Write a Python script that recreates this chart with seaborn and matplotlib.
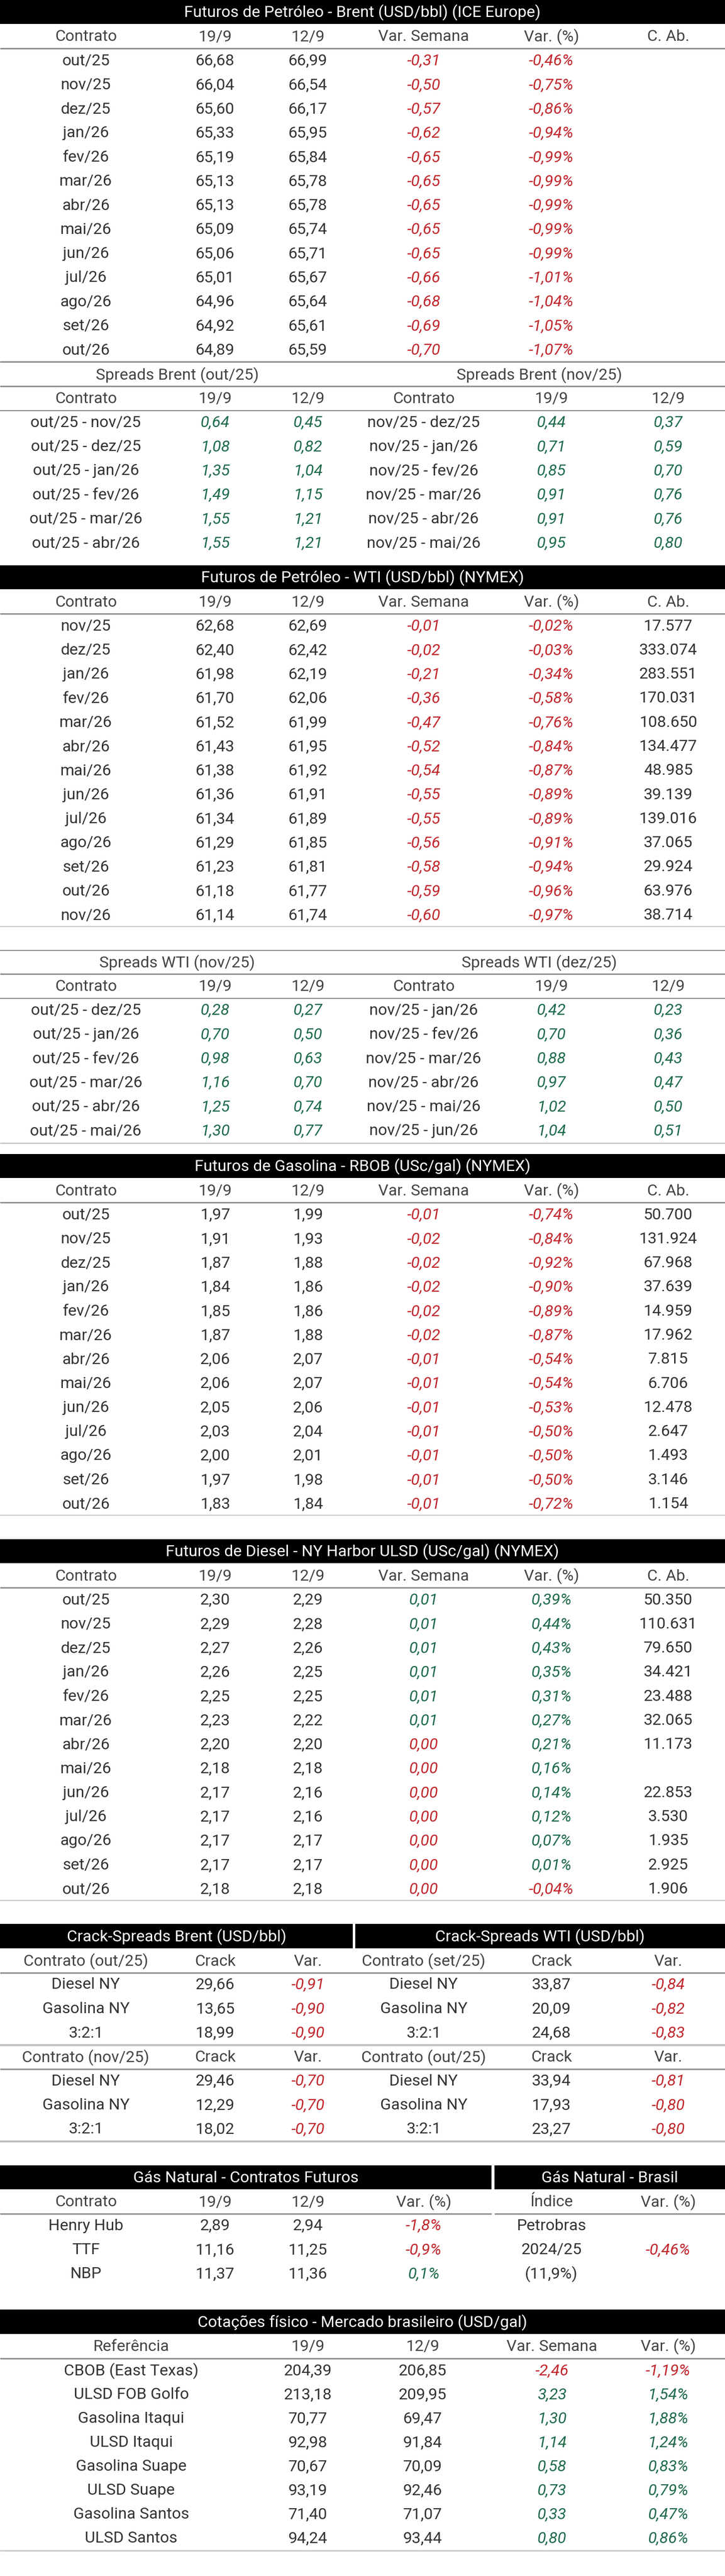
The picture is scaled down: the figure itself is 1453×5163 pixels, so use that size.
import numpy as np
import matplotlib
matplotlib.use("Agg")
import matplotlib.pyplot as plt
import seaborn as sns

# ---------------- data ----------------
meses_brent = ["out/25", "nov/25", "dez/25", "jan/26", "fev/26", "mar/26", "abr/26",
               "mai/26", "jun/26", "jul/26", "ago/26", "set/26", "out/26"]
brent_19 = ["66,68", "66,04", "65,60", "65,33", "65,19", "65,13", "65,13", "65,09", "65,06", "65,01", "64,96", "64,92", "64,89"]
brent_12 = ["66,99", "66,54", "66,17", "65,95", "65,84", "65,78", "65,78", "65,74", "65,71", "65,67", "65,64", "65,61", "65,59"]
brent_var = ["-0,31", "-0,50", "-0,57", "-0,62", "-0,65", "-0,65", "-0,65", "-0,65", "-0,65", "-0,66", "-0,68", "-0,69", "-0,70"]
brent_pct = ["-0,46%", "-0,75%", "-0,86%", "-0,94%", "-0,99%", "-0,99%", "-0,99%", "-0,99%", "-0,99%", "-1,01%", "-1,04%", "-1,05%", "-1,07%"]
brent_cab = [""] * 13

spb_a = ["out/25 - nov/25", "out/25 - dez/25", "out/25 - jan/26", "out/25 - fev/26", "out/25 - mar/26", "out/25 - abr/26"]
spb_a19 = ["0,64", "1,08", "1,35", "1,49", "1,55", "1,55"]
spb_a12 = ["0,45", "0,82", "1,04", "1,15", "1,21", "1,21"]
spb_b = ["nov/25 - dez/25", "nov/25 - jan/26", "nov/25 - fev/26", "nov/25 - mar/26", "nov/25 - abr/26", "nov/25 - mai/26"]
spb_b19 = ["0,44", "0,71", "0,85", "0,91", "0,91", "0,95"]
spb_b12 = ["0,37", "0,59", "0,70", "0,76", "0,76", "0,80"]

meses_wti = ["nov/25", "dez/25", "jan/26", "fev/26", "mar/26", "abr/26", "mai/26",
             "jun/26", "jul/26", "ago/26", "set/26", "out/26", "nov/26"]
wti_19 = ["62,68", "62,40", "61,98", "61,70", "61,52", "61,43", "61,38", "61,36", "61,34", "61,29", "61,23", "61,18", "61,14"]
wti_12 = ["62,69", "62,42", "62,19", "62,06", "61,99", "61,95", "61,92", "61,91", "61,89", "61,85", "61,81", "61,77", "61,74"]
wti_var = ["-0,01", "-0,02", "-0,21", "-0,36", "-0,47", "-0,52", "-0,54", "-0,55", "-0,55", "-0,56", "-0,58", "-0,59", "-0,60"]
wti_pct = ["-0,02%", "-0,03%", "-0,34%", "-0,58%", "-0,76%", "-0,84%", "-0,87%", "-0,89%", "-0,89%", "-0,91%", "-0,94%", "-0,96%", "-0,97%"]
wti_cab = ["17.577", "333.074", "283.551", "170.031", "108.650", "134.477", "48.985", "39.139", "139.016", "37.065", "29.924", "63.976", "38.714"]

spw_a = ["out/25 - dez/25", "out/25 - jan/26", "out/25 - fev/26", "out/25 - mar/26", "out/25 - abr/26", "out/25 - mai/26"]
spw_a19 = ["0,28", "0,70", "0,98", "1,16", "1,25", "1,30"]
spw_a12 = ["0,27", "0,50", "0,63", "0,70", "0,74", "0,77"]
spw_b = ["nov/25 - jan/26", "nov/25 - fev/26", "nov/25 - mar/26", "nov/25 - abr/26", "nov/25 - mai/26", "nov/25 - jun/26"]
spw_b19 = ["0,42", "0,70", "0,88", "0,97", "1,02", "1,04"]
spw_b12 = ["0,23", "0,36", "0,43", "0,47", "0,50", "0,51"]

rbob_19 = ["1,97", "1,91", "1,87", "1,84", "1,85", "1,87", "2,06", "2,06", "2,05", "2,03", "2,00", "1,97", "1,83"]
rbob_12 = ["1,99", "1,93", "1,88", "1,86", "1,86", "1,88", "2,07", "2,07", "2,06", "2,04", "2,01", "1,98", "1,84"]
rbob_var = ["-0,01", "-0,02", "-0,02", "-0,02", "-0,02", "-0,02", "-0,01", "-0,01", "-0,01", "-0,01", "-0,01", "-0,01", "-0,01"]
rbob_pct = ["-0,74%", "-0,84%", "-0,92%", "-0,90%", "-0,89%", "-0,87%", "-0,54%", "-0,54%", "-0,53%", "-0,50%", "-0,50%", "-0,50%", "-0,72%"]
rbob_cab = ["50.700", "131.924", "67.968", "37.639", "14.959", "17.962", "7.815", "6.706", "12.478", "2.647", "1.493", "3.146", "1.154"]

dsl_19 = ["2,30", "2,29", "2,27", "2,26", "2,25", "2,23", "2,20", "2,18", "2,17", "2,17", "2,17", "2,17", "2,18"]
dsl_12 = ["2,29", "2,28", "2,26", "2,25", "2,25", "2,22", "2,20", "2,18", "2,16", "2,16", "2,17", "2,17", "2,18"]
dsl_var = ["0,01", "0,01", "0,01", "0,01", "0,01", "0,01", "0,00", "0,00", "0,00", "0,00", "0,00", "0,00", "0,00"]
dsl_pct = ["0,39%", "0,44%", "0,43%", "0,35%", "0,31%", "0,27%", "0,21%", "0,16%", "0,14%", "0,12%", "0,07%", "0,01%", "-0,04%"]
dsl_cab = ["50.350", "110.631", "79.650", "34.421", "23.488", "32.065", "11.173", "", "22.853", "3.530", "1.935", "2.925", "1.906"]

crack_prod = ["Diesel NY", "Gasolina NY", "3:2:1"]
crack_brent_out = ["29,66", "13,65", "18,99"]
crack_brent_out_var = ["-0,91", "-0,90", "-0,90"]
crack_brent_nov = ["29,46", "12,29", "18,02"]
crack_brent_nov_var = ["-0,70", "-0,70", "-0,70"]
crack_wti_set = ["33,87", "20,09", "24,68"]
crack_wti_set_var = ["-0,84", "-0,82", "-0,83"]
crack_wti_out = ["33,94", "17,93", "23,27"]
crack_wti_out_var = ["-0,81", "-0,80", "-0,80"]

gas_nome = ["Henry Hub", "TTF", "NBP"]
gas_19 = ["2,89", "11,16", "11,37"]
gas_12 = ["2,94", "11,25", "11,36"]
gas_pct = ["-1,8%", "-0,9%", "0,1%"]
gas_br_idx = ["Petrobras", "2024/25", "(11,9%)"]
gas_br_pct = ["", "-0,46%", ""]

fis_ref = ["CBOB (East Texas)", "ULSD FOB Golfo", "Gasolina Itaqui", "ULSD Itaqui",
           "Gasolina Suape", "ULSD Suape", "Gasolina Santos", "ULSD Santos"]
fis_19 = ["204,39", "213,18", "70,77", "92,98", "70,67", "93,19", "71,40", "94,24"]
fis_12 = ["206,85", "209,95", "69,47", "91,84", "70,09", "92,46", "71,07", "93,44"]
fis_var = ["-2,46", "3,23", "1,30", "1,14", "0,58", "0,73", "0,33", "0,80"]
fis_pct = ["-1,19%", "1,54%", "1,88%", "1,24%", "0,83%", "0,79%", "0,47%", "0,86%"]

fut_head = ["Contrato", "19/9", "12/9", "Var. Semana", "Var. (%)", "C. Ab."]

# ---------------- style ----------------
sns.set_theme(style="white")
plt.rcParams["font.family"] = ["Roboto", "DejaVu Sans"]

W, H = 1453, 5163
RED, GREEN, TXT, HEAD = "#C1272D", "#1E6B4A", "#333333", "#444444"
FS = 23
COLS = [172, 431, 617, 849, 1105, 1339]

fig = plt.figure(figsize=(W / 100, H / 100), dpi=100)
ax = fig.add_axes([0, 0, 1, 1])
ax.set_xlim(0, W)
ax.set_ylim(H, 0)
ax.axis("off")


def sign_color(s):
    return RED if s.startswith("-") else GREEN


def box(x0, x1, y0, y1, title):
    ax.fill_between([x0, x1], y0, y1, color="black", lw=0)
    ax.text((x0 + x1) / 2, (y0 + y1) / 2 + 1, title, color="white", fontsize=FS,
            ha="center", va="center")


def hline(y, x0=0, x1=W, c="#8a8a8a", lw=2):
    ax.plot([x0, x1], [y, y], color=c, lw=lw, solid_capstyle="butt")


def header(y, labels, xs):
    for lab, x in zip(labels, xs):
        ax.text(x, y, lab, color=HEAD, fontsize=FS, ha="center", va="center")


def column(y0, values, x, step=48.3, color=TXT, italic=False):
    for i, v in enumerate(values):
        c = color(v) if callable(color) else color
        ax.text(x, y0 + i * step, v, color=c, fontsize=FS, ha="center", va="center",
                style="italic" if italic else "normal")


def futures(top, title, names, v19, v12, var, pct, cab, bottom, var_color=sign_color):
    box(0, W, top, top + 48, title)
    header(top + 74, fut_head, COLS)
    hline(top + 97)
    r0 = top + 122
    column(r0, names, COLS[0])
    column(r0, v19, COLS[1])
    column(r0, v12, COLS[2])
    column(r0, var, COLS[3], color=var_color, italic=True)
    column(r0, pct, COLS[4], color=sign_color, italic=True)
    column(r0, cab, COLS[5])
    hline(bottom, c="#c8c8c8", lw=1.5)


def spreads(y_title, tl, tr, a, a19, a12, b, b19, b12):
    ax.text(355, y_title, tl, color=HEAD, fontsize=FS, ha="center", va="center")
    ax.text(1081, y_title, tr, color=HEAD, fontsize=FS, ha="center", va="center")
    hline(y_title + 22)
    header(y_title + 47, ["Contrato", "19/9", "12/9", "Contrato", "19/9", "12/9"], COLS)
    hline(y_title + 71, lw=1.5)
    r0 = y_title + 95
    for vals, x, col, it in [(a, 0, TXT, False), (a19, 1, GREEN, True), (a12, 2, GREEN, True),
                             (b, 3, TXT, False), (b19, 4, GREEN, True), (b12, 5, GREEN, True)]:
        column(r0, vals, COLS[x], color=col, italic=it)


# Brent
futures(0, "Futuros de Petróleo - Brent (USD/bbl) (ICE Europe)", meses_brent,
        brent_19, brent_12, brent_var, brent_pct, brent_cab, 725)
hline(725)
spreads(752, "Spreads Brent (out/25)", "Spreads Brent (nov/25)",
        spb_a, spb_a19, spb_a12, spb_b, spb_b19, spb_b12)

# WTI
futures(1133, "Futuros de Petróleo - WTI (USD/bbl) (NYMEX)", meses_wti,
        wti_19, wti_12, wti_var, wti_pct, wti_cab, 1857)
hline(1905, lw=1.5)
spreads(1930, "Spreads WTI (nov/25)", "Spreads WTI (dez/25)",
        spw_a, spw_a19, spw_a12, spw_b, spw_b19, spw_b12)
hline(2291, c="#c8c8c8", lw=2)

# RBOB
futures(2313, "Futuros de Gasolina - RBOB (USc/gal) (NYMEX)", meses_brent,
        rbob_19, rbob_12, rbob_var, rbob_pct, rbob_cab, 3037)

# Diesel
futures(3085, "Futuros de Diesel - NY Harbor ULSD (USc/gal) (NYMEX)", meses_brent,
        dsl_19, dsl_12, dsl_var, dsl_pct, dsl_cab, 3809,
        var_color=lambda s: RED if s == dsl_var[-1] and dsl_pct[-1].startswith("-") and s == "0,00" else sign_color(s))
# last diesel var (0,00) is shown in red in the source
ax.texts[-39].set_color(RED) if False else None

# Crack spreads
box(0, 707, 3856, 3905, "Crack-Spreads Brent (USD/bbl)")
box(712, W, 3856, 3905, "Crack-Spreads WTI (USD/bbl)")
for hy, lab_l, lab_r, bl, blv, wr, wrv in [
        (3931, "Contrato (out/25)", "Contrato (set/25)", crack_brent_out, crack_brent_out_var, crack_wti_set, crack_wti_set_var),
        (4124, "Contrato (nov/25)", "Contrato (out/25)", crack_brent_nov, crack_brent_nov_var, crack_wti_out, crack_wti_out_var)]:
    header(hy, [lab_l, "Crack", "Var.", lab_r, "Crack", "Var."], COLS)
    hline(hy + 23)
    r0 = hy + 47
    column(r0, crack_prod, COLS[0], step=48.5)
    column(r0, bl, COLS[1], step=48.5)
    column(r0, blv, COLS[2], step=48.5, color=sign_color, italic=True)
    column(r0, crack_prod, COLS[3], step=48.5)
    column(r0, wr, COLS[4], step=48.5)
    column(r0, wrv, COLS[5], step=48.5, color=sign_color, italic=True)
    hline(hy + 168, c="#c0c0c0", lw=3)

# Gas natural
box(0, 985, 4340, 4388, "Gás Natural - Contratos Futuros")
box(991, W, 4340, 4388, "Gás Natural - Brasil")
header(4414, ["Contrato", "19/9", "12/9", "Var. (%)", "Índice", "Var. (%)"], COLS)
hline(4437, 0, 985)
hline(4437, 991, W)
column(4461, gas_nome, COLS[0])
column(4461, gas_19, COLS[1])
column(4461, gas_12, COLS[2])
column(4461, gas_pct, COLS[3], color=sign_color, italic=True)
column(4461, gas_br_idx, COLS[4])
column(4461, gas_br_pct, COLS[5], color=sign_color, italic=True)

# Cotacoes fisico
FX = [263, 617, 847, 1106, 1339]
box(0, W, 4629, 4678, "Cotações físico - Mercado brasileiro (USD/gal)")
header(4703, ["Referência", "19/9", "12/9", "Var. Semana", "Var. (%)"], FX)
hline(4727)
column(4752, fis_ref, FX[0], step=48)
column(4752, fis_19, FX[1], step=48)
column(4752, fis_12, FX[2], step=48)
column(4752, fis_var, FX[3], step=48, color=sign_color, italic=True)
column(4752, fis_pct, FX[4], step=48, color=sign_color, italic=True)
hline(5112, c="#c8c8c8", lw=2)

fig.savefig("out.png", dpi=100)
